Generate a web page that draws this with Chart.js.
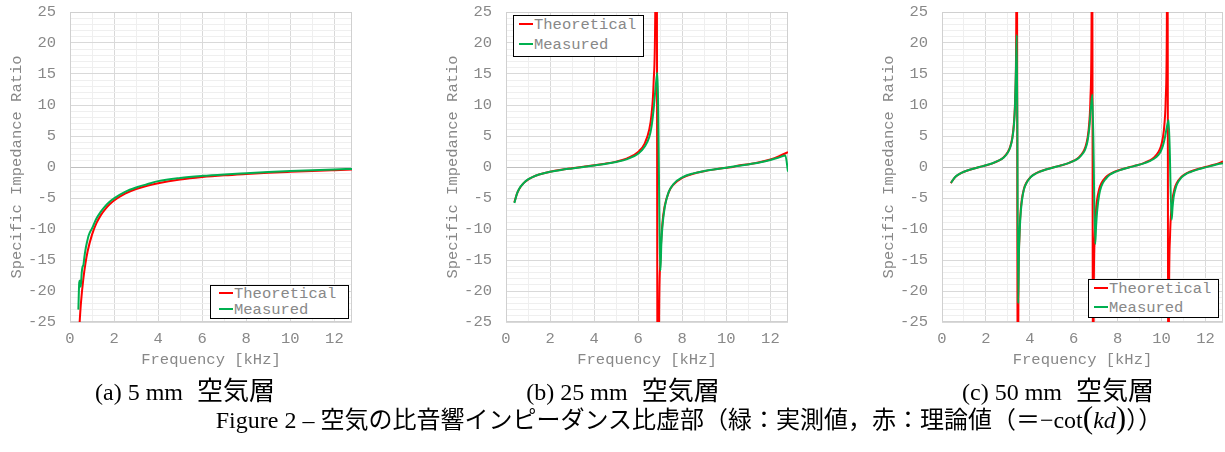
<!DOCTYPE html>
<html>
<head>
<meta charset="utf-8">
<script src="https://cdn.jsdelivr.net/npm/chart.js@4.4.1/dist/chart.umd.min.js"></script>
<style>
  body{margin:0;background:#fff;}
  #page{position:relative;width:1225px;height:452px;overflow:hidden;background:#fff;}
  canvas{position:absolute;top:0;}
  .legend{position:absolute;border:1px solid #000;background:#fff;box-sizing:border-box;
    font-family:"Liberation Mono",monospace;font-size:15.5px;color:#888;}
  .legend .row{position:absolute;height:18px;line-height:18px;white-space:nowrap;}
  .legend .mark{display:inline-block;width:14px;height:2px;vertical-align:middle;margin-right:1px;position:relative;top:-1px;}
  .cap{position:absolute;text-align:center;white-space:nowrap;color:#000;
    font-family:"Liberation Serif","Noto Sans CJK JP",serif;}
  .gap{display:inline-block;width:14px;}
  .jp{font-size:26px;}
</style>
</head>
<body>
<div id="page">
  <canvas id="chartA" width="360" height="372" style="left:0px"></canvas>
  <canvas id="chartB" width="360" height="372" style="left:436px"></canvas>
  <canvas id="chartC" width="353" height="372" style="left:872px"></canvas>

  <div class="legend" style="left:210px;top:285px;width:139px;height:34px">
    <div class="row" style="left:8px;top:-1px"><span class="mark" style="background:#ff0000"></span>Theoretical</div>
    <div class="row" style="left:8px;top:15px"><span class="mark" style="background:#00b050"></span>Measured</div>
  </div>
  <div class="legend" style="left:513px;top:15px;width:131px;height:42px">
    <div class="row" style="left:5px;top:0px"><span class="mark" style="background:#ff0000;height:2.5px"></span>Theoretical</div>
    <div class="row" style="left:5px;top:20px"><span class="mark" style="background:#00b050"></span>Measured</div>
  </div>
  <div class="legend" style="left:1088px;top:279px;width:131px;height:39px">
    <div class="row" style="left:5px;top:0px"><span class="mark" style="background:#ff0000"></span>Theoretical</div>
    <div class="row" style="left:5px;top:19px"><span class="mark" style="background:#00b050"></span>Measured</div>
  </div>

  <div class="cap" style="left:35px;width:300px;top:370px;font-size:24px">(a) 5 mm<span class="gap"></span><span class="jp">空気層</span></div>
  <div class="cap" style="left:473px;width:300px;top:370px;font-size:24px">(b) 25 mm<span class="gap"></span><span class="jp">空気層</span></div>
  <div class="cap" style="left:908px;width:300px;top:370px;font-size:24px">(c) 50 mm<span class="gap"></span><span class="jp">空気層</span></div>
  <div class="cap" style="left:189px;width:1000px;top:400px;font-size:24px">Figure 2 – 空気の比音響インピーダンス比虚部（緑：実測値，赤：理論値（＝−cot<span style="font-size:1.3em">(</span><i>kd</i><span style="font-size:1.3em">)</span>））</div>
</div>

<script>
/* ---------- DATA ---------- */
const xTicks = [0,1,2,3,4,5,6,7,8,9,10,11,12];
const yTicks = [];
for (let v = -25; v <= 25; v++) yTicks.push(v);

// (a) 5 mm
const freqTheoA = [0.40,0.45,0.50,0.60,0.70,0.80,1.0,1.2,1.4,1.6,1.8,2.0,2.5,3.0,3.5,4.0,5.0,6.0,7.0,8.0,9.0,10.0,11.0,12.0,12.8];
const theoA = [-27.3,-24.3,-21.8,-18.2,-15.6,-13.6,-10.9,-9.06,-7.76,-6.78,-6.01,-5.40,-4.29,-3.55,-3.01,-2.61,-2.03,-1.63,-1.34,-1.12,-0.925,-0.77,-0.63,-0.51,-0.42];
const freqMeasA = [0.38,0.42,0.45,0.49,0.53,0.57,0.61,0.65,0.70,0.76,0.85,1.0,1.2,1.4,1.6,1.8,2.0,2.5,3.0,3.5,4.0,5.0,6.0,7.0,8.0,9.0,10.0,11.0,12.0,12.8];
const measA = [-23.0,-18.6,-18.3,-19.3,-17.1,-16.1,-15.8,-14.6,-13.4,-12.3,-11.0,-9.9,-8.3,-7.2,-6.3,-5.6,-5.05,-4.0,-3.3,-2.78,-2.28,-1.76,-1.43,-1.19,-1.00,-0.82,-0.66,-0.53,-0.40,-0.31];

// (b) 25 mm
const freqTheoB = [0.38,0.5,0.6,0.8,1.0,1.2,1.5,2.0,2.5,3.0,3.43,4.0,4.5,5.0,5.5,6.0,6.3,6.5,6.6,6.7,6.78,6.83,6.89,6.95,7.0,7.1,7.2,7.4,7.6,8.0,8.5,9.0,9.5,10.0,10.29,10.5,11.0,11.5,12.0,12.4,12.8];
const theoB = [-5.69,-4.29,-3.55,-2.61,-2.03,-1.63,-1.22,-0.77,-0.45,-0.20,0,0.27,0.53,0.87,1.39,2.41,3.82,6.0,8.35,13.6,27.3,72.8,-72.8,-24.3,-15.6,-9.06,-6.37,-3.96,-2.84,-1.74,-1.08,-0.67,-0.38,-0.13,0,0.2,0.45,0.77,1.22,1.75,2.4];
const freqMeasB = [0.38,0.5,0.6,0.8,1.0,1.2,1.5,2.0,2.5,3.0,3.43,4.0,4.5,5.0,5.5,6.0,6.3,6.5,6.6,6.7,6.8,6.87,7.01,7.05,7.1,7.2,7.3,7.4,7.6,8.0,8.5,9.0,9.5,10.0,10.5,11.0,11.5,12.0,12.4,12.68,12.8];
const measB = [-5.8,-4.3,-3.5,-2.6,-2.0,-1.62,-1.22,-0.78,-0.47,-0.23,-0.03,0.24,0.5,0.82,1.28,2.15,3.3,4.8,6.4,9.3,13.2,15.2,-16.7,-12.5,-9.6,-6.6,-5.0,-3.9,-2.75,-1.68,-1.03,-0.64,-0.36,-0.12,0.17,0.42,0.72,1.12,1.55,1.85,-0.75];

// (c) 50 mm
const freqTheoC = [0.40,0.6,0.8,1.0,1.3,1.715,2.0,2.3,2.6,2.8,3.0,3.1,3.2,3.28,3.33,3.38,3.41,
  3.45,3.48,3.53,3.58,3.63,3.73,3.83,4.03,4.23,4.43,4.73,5.145,5.43,5.73,6.03,6.23,6.43,6.53,6.63,6.71,6.76,6.81,6.84,
  6.88,6.91,6.96,7.01,7.06,7.16,7.26,7.46,7.66,7.86,8.16,8.575,8.86,9.16,9.46,9.66,9.86,9.96,10.06,10.14,10.19,10.24,10.27,
  10.31,10.34,10.39,10.44,10.49,10.59,10.69,10.89,11.09,11.29,11.59,12.005,12.29,12.59,12.8];
const theoC = [-2.61,-1.63,-1.12,-0.77,-0.40,0,0.27,0.59,1.05,1.53,2.41,3.21,4.68,7.23,10.9,21.8,54.6,
  -54.6,-21.8,-10.9,-7.23,-5.40,-3.55,-2.61,-1.63,-1.12,-0.77,-0.40,0,0.27,0.59,1.05,1.53,2.41,3.21,4.68,7.23,10.9,21.8,54.6,
  -54.6,-21.8,-10.9,-7.23,-5.40,-3.55,-2.61,-1.63,-1.12,-0.77,-0.40,0,0.27,0.59,1.05,1.53,2.41,3.21,4.68,7.23,10.9,21.8,54.6,
  -54.6,-21.8,-10.9,-7.23,-5.40,-3.55,-2.61,-1.63,-1.12,-0.77,-0.40,0,0.27,0.59,0.89];
const freqMeasC = [0.41,0.6,0.8,1.0,1.3,1.715,2.0,2.3,2.6,2.8,3.0,3.1,3.2,3.28,3.33,3.38,3.41,
  3.47,3.50,3.55,3.60,3.65,3.73,3.83,4.03,4.23,4.43,4.73,5.145,5.43,5.73,6.03,6.23,6.43,6.53,6.63,6.71,6.76,6.85,
  6.98,7.02,7.07,7.16,7.26,7.46,7.66,7.86,8.16,8.575,8.86,9.16,9.46,9.66,9.86,9.96,10.06,10.14,10.22,10.33,
  10.46,10.50,10.55,10.62,10.70,10.89,11.09,11.29,11.59,12.005,12.29,12.59,12.8];
const measC = [-2.55,-1.62,-1.1,-0.76,-0.4,0,0.27,0.6,1.05,1.5,2.35,3.1,4.5,6.9,10.2,17.5,21.3,
  -22.0,-14.5,-9.5,-6.8,-5.2,-3.65,-2.7,-1.68,-1.14,-0.78,-0.41,0,0.26,0.58,1.02,1.45,2.25,2.9,4.2,6.3,8.5,11.7,
  -12.4,-9.5,-7.0,-4.5,-3.1,-1.9,-1.22,-0.83,-0.44,-0.02,0.24,0.55,0.95,1.33,1.95,2.5,3.4,4.5,6.0,7.6,
  -8.5,-6.6,-4.9,-3.7,-2.8,-1.75,-1.18,-0.84,-0.46,-0.06,0.2,0.47,0.62];

/* ---------- HELPERS ---------- */
const labelColor = "#888";
const monoFont = {family:'"Liberation Mono", monospace', size:15.5};

function pairs(xs, ys){
  return xs.map((x,i)=>({x:x, y:ys[i]}));
}

const framePlugin = {
  id:"frame",
  beforeDatasetsDraw(chart){
    const {ctx, chartArea:a} = chart;
    ctx.save();
    ctx.strokeStyle = "#d0d0d0";
    ctx.lineWidth = 1;
    ctx.strokeRect(Math.round(a.left)+0.5, Math.round(a.top)+0.5, Math.round(a.right-a.left)-1, Math.round(a.bottom-a.top)-1);
    ctx.restore();
  }
};

function makeChart(id, padRight, fx, ty, mx, my){
  return new Chart(document.getElementById(id), {
    type:"line",
    data:{
      datasets:[
        {label:"Theoretical", data:pairs(fx,ty), borderColor:"#ff0000", borderWidth:2, pointRadius:0,
         cubicInterpolationMode:"monotone", order:2},
        {label:"Measured", data:pairs(mx,my), borderColor:"#00b050", borderWidth:2, pointRadius:0,
         cubicInterpolationMode:"monotone", order:1}
      ]
    },
    options:{
      responsive:false, animation:false, devicePixelRatio:1,
      layout:{padding:{top:12, right:padRight, left:0, bottom:0}},
      plugins:{legend:{display:false}, tooltip:{enabled:false}},
      scales:{
        x:{
          type:"linear", min:0, max:12.8,
          afterBuildTicks:s=>{ s.ticks = xTicks.map(v=>({value:v})); },
          afterFit:s=>{ s.height = 50; s.paddingLeft = 0; s.paddingRight = 0; },
          ticks:{autoSkip:false, maxRotation:0, padding:8, color:labelColor, font:monoFont,
                 callback:v=> v%2===0 ? String(v) : ""},
          grid:{drawTicks:false, color:c=> c.tick && c.tick.value%2===0 ? "#d9d9d9" : "#efefef"},
          border:{display:false},
          title:{display:true, text:"Frequency [kHz]", color:labelColor, font:monoFont, padding:{top:0, bottom:3}}
        },
        y:{
          min:-25, max:25,
          afterBuildTicks:s=>{ s.ticks = yTicks.map(v=>({value:v})); },
          afterFit:s=>{ s.width = 70; s.paddingTop = 0; s.paddingBottom = 0; },
          ticks:{autoSkip:false, padding:14, color:labelColor, font:monoFont,
                 callback:v=> v%5===0 ? String(v) : ""},
          grid:{drawTicks:false, color:c=>{
            if(!c.tick) return "#efefef";
            if(c.tick.value===0) return "#bfbfbf";
            return c.tick.value%5===0 ? "#d9d9d9" : "#efefef";
          }},
          border:{display:false},
          title:{display:true, text:"Specific Impedance Ratio", color:labelColor, font:monoFont, padding:{top:8, bottom:0}}
        }
      }
    },
    plugins:[framePlugin]
  });
}

/* ---------- DRAW ---------- */
makeChart("chartA", 8, freqTheoA, theoA, freqMeasA, measA);
makeChart("chartB", 8, freqTheoB, theoB, freqMeasB, measB);
makeChart("chartC", 2, freqTheoC, theoC, freqMeasC, measC);
</script>
</body>
</html>
